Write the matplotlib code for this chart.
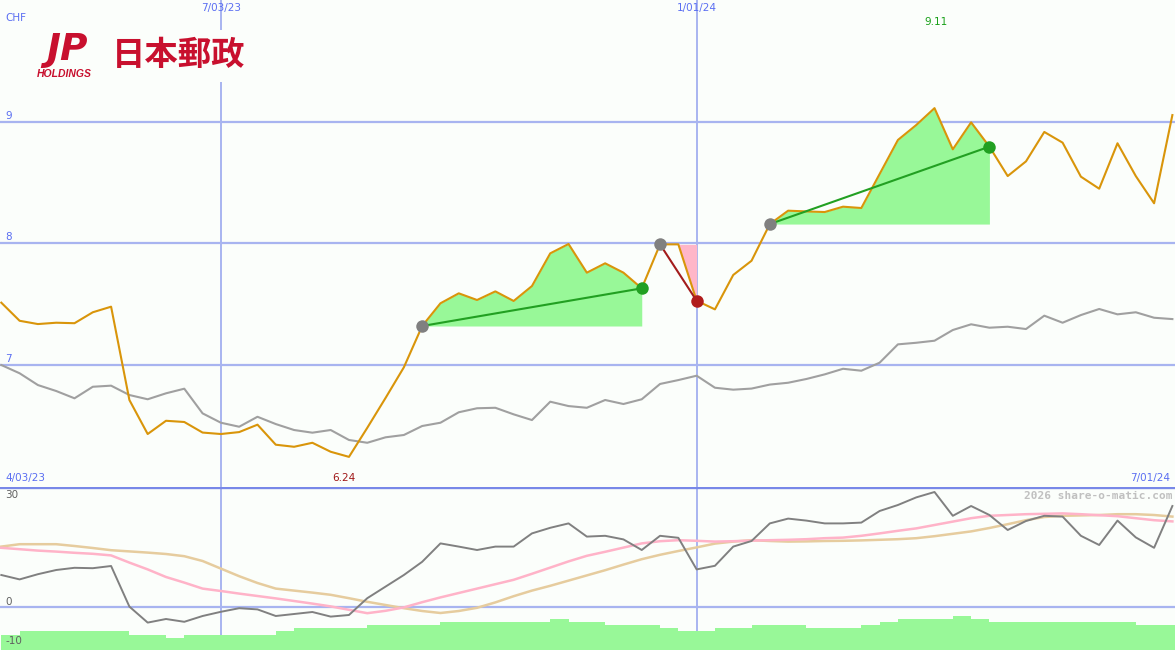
import matplotlib
matplotlib.use("Agg")
import matplotlib.pyplot as plt
import matplotlib.dates as mdates
from matplotlib.patches import Rectangle
import pandas as pd
import numpy as np

# ---------------- data ----------------
start_date = "2023-04-10"
n_weeks = 65
dates = pd.date_range(start_date, periods=n_weeks, freq="7D")

price = [7.509, 7.36, 7.333, 7.344, 7.34, 7.43, 7.476, 6.708, 6.428, 6.537,
         6.527, 6.44, 6.428, 6.444, 6.505, 6.34, 6.323, 6.356, 6.282, 6.24,
         6.479, 6.725, 6.977, 7.317, 7.504, 7.586, 7.531, 7.602, 7.523, 7.646,
         7.915, 7.992, 7.756, 7.833, 7.756, 7.627, 7.989, 7.989, 7.525, 7.454,
         7.737, 7.854, 8.156, 8.266, 8.26, 8.255, 8.299, 8.288, 8.568, 8.848,
         8.971, 9.11, 8.771, 8.993, 8.793, 8.551, 8.672, 8.914, 8.826, 8.546,
         8.447, 8.821, 8.551, 8.327, 9.053]

benchmark = [6.996, 6.928, 6.831, 6.782, 6.722, 6.817, 6.826, 6.749, 6.714, 6.763,
             6.801, 6.598, 6.521, 6.488, 6.570, 6.510, 6.461, 6.439, 6.461, 6.379,
             6.356, 6.401, 6.420, 6.494, 6.521, 6.607, 6.640, 6.644, 6.590, 6.543,
             6.694, 6.658, 6.644, 6.708, 6.675, 6.714, 6.840, 6.872, 6.908, 6.809,
             6.793, 6.802, 6.835, 6.850, 6.881, 6.919, 6.965, 6.949, 7.015, 7.166,
             7.179, 7.196, 7.284, 7.331, 7.303, 7.311, 7.292, 7.402, 7.344, 7.407,
             7.457, 7.413, 7.430, 7.385, 7.374]

momentum = [8.0, 6.9, 8.2, 9.25, 9.8, 9.7, 10.25, 0.1, -3.9, -3.0,
            -3.7, -2.25, -1.2, -0.3, -0.6, -2.25, -1.75, -1.25, -2.4, -2.0,
            2.2, 5.1, 8.0, 11.3, 15.9, 15.1, 14.25, 15.1, 15.1, 18.4,
            19.8, 20.9, 17.6, 17.8, 16.9, 14.25, 17.8, 17.3, 9.4, 10.3,
            15.1, 16.5, 20.9, 22.1, 21.6, 20.9, 20.9, 21.1, 24.0, 25.5,
            27.4, 28.75, 22.8, 25.25, 23.0, 19.25, 21.5, 22.8, 22.6, 17.8,
            15.5, 21.6, 17.4, 14.8, 25.25]

avg_fast = [14.8, 14.45, 14.1, 13.85, 13.55, 13.3, 12.9, 11.1, 9.4, 7.5,
            6.1, 4.6, 4.0, 3.35, 2.75, 2.15, 1.5, 0.85, 0.15, -0.7,
            -1.55, -0.95, -0.1, 1.2, 2.4, 3.5, 4.6, 5.7, 6.8, 8.3,
            9.85, 11.4, 12.8, 13.8, 14.85, 15.9, 16.45, 16.7, 16.55, 16.35,
            16.45, 16.6, 16.7, 16.8, 16.95, 17.2, 17.35, 17.8, 18.4, 19.05,
            19.65, 20.5, 21.35, 22.2, 22.8, 23.0, 23.2, 23.3, 23.4, 23.2,
            22.95, 22.7, 22.2, 21.7, 21.4]

avg_slow = [15.1, 15.7, 15.7, 15.7, 15.25, 14.75, 14.2, 13.9, 13.6, 13.25,
            12.7, 11.5, 9.6, 7.7, 6.0, 4.6, 4.1, 3.6, 3.05, 2.2,
            1.3, 0.5, -0.3, -1.0, -1.5, -1.0, -0.2, 1.15, 2.7, 4.1,
            5.3, 6.6, 7.9, 9.2, 10.6, 11.95, 13.05, 14.0, 14.9, 15.85,
            16.35, 16.7, 16.5, 16.35, 16.4, 16.5, 16.55, 16.65, 16.8, 16.95,
            17.2, 17.7, 18.3, 18.9, 19.75, 20.7, 21.7, 22.5, 22.8, 22.9,
            23.0, 23.2, 23.2, 23.0, 22.6]

strength = [-7.0, -6.0, -6.0, -6.0, -6.0, -6.0, -6.0, -7.0, -7.0, -7.7,
            -7.0, -7.0, -7.0, -7.0, -7.0, -6.0, -5.2, -5.2, -5.2, -5.2,
            -4.5, -4.5, -4.5, -4.5, -3.7, -3.7, -3.7, -3.7, -3.7, -3.7,
            -3.0, -3.7, -3.7, -4.5, -4.5, -4.5, -5.2, -6.0, -6.0, -5.2,
            -5.2, -4.5, -4.5, -4.5, -5.2, -5.2, -5.2, -4.5, -3.75, -3.0,
            -3.0, -3.0, -2.25, -3.0, -3.75, -3.75, -3.75, -3.75, -3.75, -3.75,
            -3.75, -3.75, -4.5, -4.5, -4.5]

# trades: (entry index, exit index, won)
trades = [(23, 35, True), (36, 38, False), (42, 54, True)]

price_ticks = [7, 8, 9]
osc_ticks = [30, 0, -10]
top_date_labels = [("2023-07-03", "7/03/23"), ("2024-01-01", "1/01/24")]
start_label = "4/03/23"
end_label = "7/01/24"
min_label = "6.24"
max_label = "9.11"
currency = "CHF"
company = "日本郵政"
watermark = "2026 share-o-matic.com"

# ---------------- style ----------------
BG = "#fbfefb"
GRID = "#a8b4f0"
LBL = "#5a6ef2"
ORANGE = "#d9950a"
GRAYL = "#a0a0a0"
GREEN_FILL = "#98f898"
GREEN_LINE = "#22a022"
RED = "#a31c1c"
PINK_FILL = "#ffb6c8"
LOGO_RED = "#c8102e"

W, H = 1175, 650
fig = plt.figure(figsize=(W / 100, H / 100), dpi=100, facecolor=BG)

def fx(px):
    return px / W

def fy(py):
    return 1 - py / H

ax = fig.add_axes([0, fy(487), 1, fy(0) - fy(487)])
ax2 = fig.add_axes([0, 0, 1, fy(487)])

x = mdates.date2num(dates.to_pydatetime())
x0 = mdates.date2num(pd.Timestamp(start_date).to_pydatetime())
for a in (ax, ax2):
    a.set_facecolor(BG)
    a.set_xlim(x0 - 0.5, x0 + 449.0)
    for s in a.spines.values():
        s.set_visible(False)
    a.set_xticks([])
    a.set_yticks([])
    for d, _ in top_date_labels:
        a.axvline(mdates.date2num(pd.Timestamp(d).to_pydatetime()), color=GRID,
                  lw=1.4, zorder=1)

ax.set_ylim(5.992, 10.0)
ax2.set_ylim(-10.75, 30)

for t in price_ticks:
    ax.axhline(t, color=GRID, lw=1.6, zorder=1)
ax2.axhline(0, color=GRID, lw=1.6, zorder=1)
ax2.axhline(30, color="#7888e8", lw=2.4, zorder=6)

# ---------------- top panel ----------------
price_a = np.array(price)
for i0, i1, won in trades:
    xs = x[i0:i1 + 1]
    ys = price_a[i0:i1 + 1]
    base = price_a[i0]
    if won:
        ax.fill_between(xs, base, ys, where=ys >= base, interpolate=True,
                        color=GREEN_FILL, lw=0, zorder=2)
    else:
        ax.fill_between(xs, base, ys, where=ys <= base, interpolate=True,
                        color=PINK_FILL, lw=0, zorder=2)

ax.plot(x, benchmark, color=GRAYL, lw=1.5, zorder=3)
ax.plot(x, price, color=ORANGE, lw=1.5, zorder=4)

for i0, i1, won in trades:
    c = GREEN_LINE if won else RED
    ax.plot([x[i0], x[i1]], [price[i0], price[i1]], color=c, lw=1.5, zorder=5)
    ax.plot(x[i0], price[i0], "o", ms=9, color="#808080", mec="none", zorder=6)
    ax.plot(x[i1], price[i1], "o", ms=9, color=(GREEN_LINE if won else "#b01c1c"),
            mec="none", zorder=6)

# ---------------- lower panel ----------------
ax2.bar(x, np.array(strength) + 10.75, bottom=-10.75, width=7.0, align="edge",
        color=GREEN_FILL, lw=0, zorder=2)
ax2.plot(x, avg_slow, color="#e6cc9e", lw=1.8, zorder=3)
ax2.plot(x, avg_fast, color="#ffb3c8", lw=1.8, zorder=3)
ax2.plot(x, momentum, color="#808080", lw=1.4, zorder=4)

# ---------------- texts ----------------
fs = 7.5
fam = "DejaVu Sans"
fig.text(fx(5), fy(18), currency, color=LBL, fontsize=fs, family=fam, va="center")
for t, py in zip(price_ticks, [359, 237, 116]):
    fig.text(fx(5), fy(py), str(t), color=LBL, fontsize=fs, family=fam, va="center")
for (d, lab) in top_date_labels:
    px = (mdates.date2num(pd.Timestamp(d).to_pydatetime()) - (x0 - 0.5)) / 449.5 * W
    fig.text(fx(px), fy(8), lab, color=LBL, fontsize=fs, family=fam,
             ha="center", va="center")
fig.text(fx(5), fy(478), start_label, color=LBL, fontsize=fs, family=fam, va="center")
fig.text(fx(1170), fy(478), end_label, color=LBL, fontsize=fs, family=fam,
         va="center", ha="right")
fig.text(fx(344), fy(478), min_label, color="#a01818", fontsize=fs, family=fam,
         ha="center", va="center")
fig.text(fx(936), fy(22), max_label, color="#18a018", fontsize=fs, family=fam,
         ha="center", va="center")
for t, py in zip(osc_ticks, [495, 602, 641]):
    fig.text(fx(5), fy(py), str(t), color="#606060", fontsize=fs, family=fam, va="center")
fig.text(fx(1172), fy(496), watermark, color="#c0c0c0", fontsize=8,
         family="DejaVu Sans Mono", fontweight="bold", ha="right", va="center")

# logo
fig.patches.append(Rectangle((fx(30), fy(82)), fx(225), fy(30) - fy(82),
                             transform=fig.transFigure, facecolor=BG,
                             edgecolor="none", zorder=5))
fig.text(fx(67), fy(50), "JP", color=LOGO_RED, fontsize=27, family="DejaVu Sans",
         fontweight="bold", fontstyle="italic", ha="center", va="center", zorder=6)
fig.text(fx(64), fy(74), "HOLDINGS", color=LOGO_RED, fontsize=7.5,
         family="Liberation Sans", fontweight="bold", fontstyle="italic",
         ha="center", va="center", zorder=6)
fig.text(fx(179), fy(56), company, color=LOGO_RED, fontsize=24, fontweight="bold",
         family=["Noto Sans CJK JP", "DejaVu Sans"], ha="center", va="center", zorder=6)

fig.savefig("out.png", dpi=100, facecolor=BG)
